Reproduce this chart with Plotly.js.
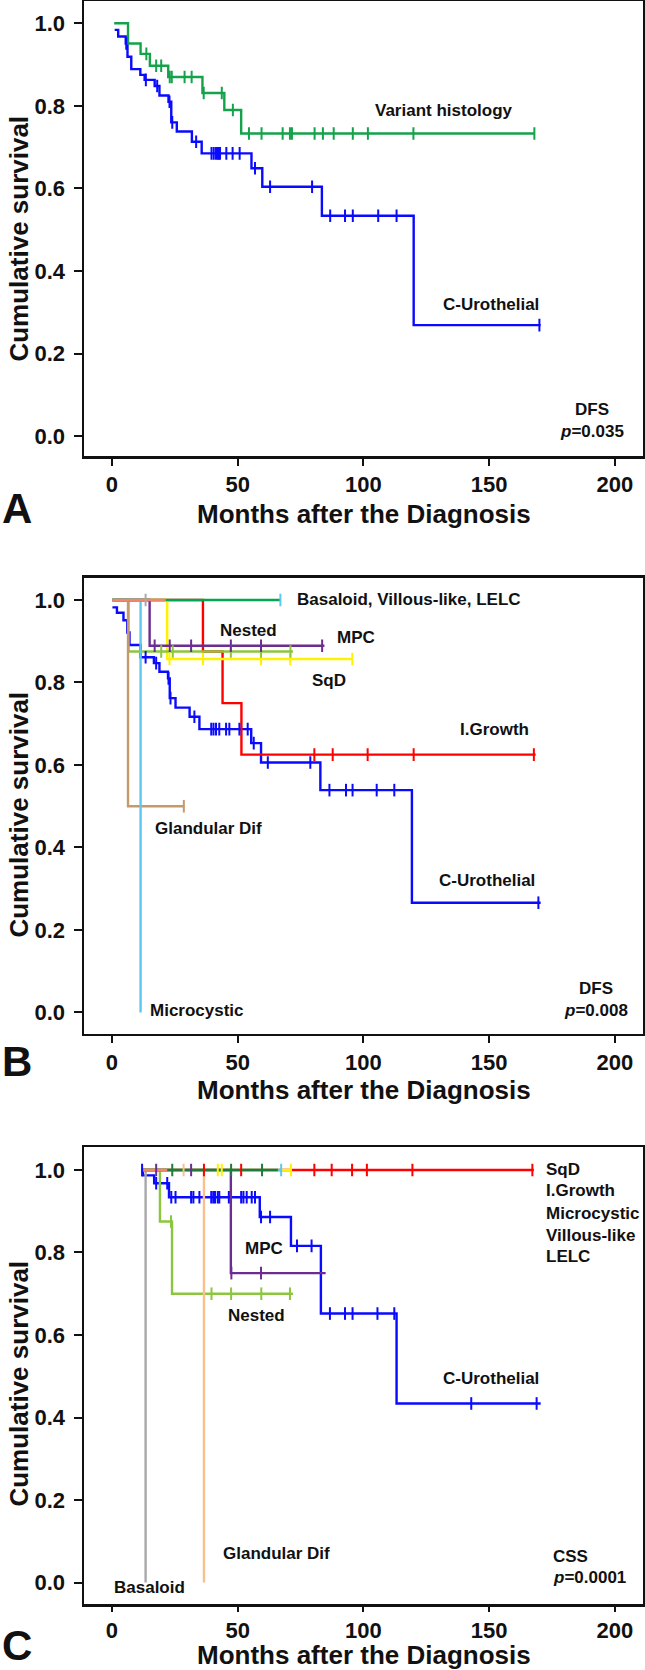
<!DOCTYPE html>
<html>
<head>
<meta charset="utf-8">
<script src="https://cdn.plot.ly/plotly-3.0.1.min.js"></script>
<style>
html,body{margin:0;padding:0;background:#ffffff;}
#chart{width:645px;height:1670px;}
</style>
</head>
<body>
<div id="chart"></div>
<script>
// ---------------- DATA ----------------
const xTicks = [0, 50, 100, 150, 200];
const yTicks = [0.0, 0.2, 0.4, 0.6, 0.8, 1.0];

// ===== Panel A : DFS, C-Urothelial vs Variant histology =====
const A_uro_t    = [1.1, 2.5, 5.5, 6.2, 7.7, 11.3, 13.0, 17.0, 18.9, 22.5, 23.6, 25.8, 31.8, 35.7, 55.5, 59.8, 83.5, 120.0];
const A_uro_s    = [0.984, 0.968, 0.951, 0.919, 0.889, 0.875, 0.863, 0.848, 0.825, 0.810, 0.760, 0.738, 0.713, 0.685, 0.649, 0.604, 0.534, 0.269];
const A_uro_end  = 170.5;
const A_uro_cens = [5.7, 13.5, 18.0, 22.9, 24.0, 33.5, 39.6, 40.5, 41.4, 42.1, 42.5, 43.0, 45.5, 48.0, 50.8, 56.9, 62.9, 79.6, 86.8, 92.7, 95.8, 105.9, 113.2, 170.0];

const A_var_t    = [0.9, 6.4, 11.4, 15.1, 22.4, 36.0, 44.7, 51.4];
const A_var_s    = [1.0, 0.951, 0.926, 0.897, 0.870, 0.831, 0.790, 0.733];
const A_var_end  = 168.2;
const A_var_cens = [13.7, 17.6, 19.6, 23.0, 23.8, 28.9, 31.7, 36.5, 43.7, 48.1, 54.5, 59.5, 67.9, 70.8, 71.6, 80.6, 83.9, 88.2, 95.8, 101.8, 119.9, 168.0];

// ===== Panel B : DFS by histologic subtype =====
const B_uro_t    = [0.2, 2.0, 4.6, 6.1, 7.0, 11.4, 16.7, 18.9, 22.3, 23.0, 25.3, 30.9, 34.8, 55.4, 59.3, 82.9, 119.3];
const B_uro_s    = [0.982, 0.969, 0.951, 0.921, 0.891, 0.861, 0.847, 0.826, 0.810, 0.762, 0.739, 0.717, 0.687, 0.653, 0.606, 0.539, 0.266];
const B_uro_end  = 170.5;
const B_uro_cens = [13.4, 17.6, 22.5, 23.3, 32.8, 39.5, 40.4, 41.4, 42.7, 45.4, 46.7, 50.7, 54.0, 56.4, 62.0, 78.9, 86.5, 93.1, 95.7, 105.3, 112.3, 169.6];

const B_igr_t = [0.2, 36.2, 44.0, 51.5];   const B_igr_s = [1.0, 0.875, 0.75, 0.625];
const B_igr_end = 168.5;                     const B_igr_cens = [80.5, 87.8, 101.7, 120.0, 167.8];

const B_sqd_t = [0.2, 22.0];                 const B_sqd_s = [1.0, 0.857];
const B_sqd_end = 95.8;                      const B_sqd_cens = [22.9, 36.2, 59.3, 70.9, 95.6];

const B_nes_t = [0.2, 6.6];                  const B_nes_s = [1.0, 0.875];
const B_nes_end = 72.0;                      const B_nes_cens = [19.6, 24.2, 47.3, 59.3, 71.0];

const B_mpc_t = [0.2, 15.0];                 const B_mpc_s = [1.0, 0.889];
const B_mpc_end = 84.5;                      const B_mpc_cens = [17.0, 23.0, 31.5, 47.3, 59.3, 83.6];

const B_gla_t = [0.2, 6.4];                  const B_gla_s = [1.0, 0.5];
const B_gla_end = 28.8;                      const B_gla_cens = [28.6];

const B_mic_t = [0.2, 11.4];                 const B_mic_s = [1.0, 0.0];
const B_mic_end = 11.4;                      const B_mic_cens = [];

const B_lel_t = [0.2];                       const B_lel_s = [1.0];
const B_lel_end = 67.0;                      const B_lel_cens = [67.0];

const B_vil_t = [0.2];                       const B_vil_s = [1.0];
const B_vil_end = 21.4;                      const B_vil_cens = [];

const B_bas_t = [0.2];                       const B_bas_s = [1.0];
const B_bas_end = 13.4;                      const B_bas_cens = [13.4];

// ===== Panel C : CSS by histologic subtype =====
const C_uro_t    = [11.8, 12.3, 16.8, 22.7, 58.8, 71.2, 83.1, 113.2];
const C_uro_s    = [1.0, 0.987, 0.968, 0.934, 0.886, 0.816, 0.652, 0.434];
const C_uro_end  = 170.5;
const C_uro_cens = [12.0, 17.6, 22.0, 23.6, 25.3, 31.5, 32.4, 34.8, 39.5, 40.3, 41.0, 42.1, 42.7, 46.5, 51.4, 52.3, 53.6, 55.6, 56.9, 59.3, 62.9, 73.6, 79.4, 86.7, 92.7, 95.7, 105.6, 112.3, 142.9, 168.9];

const C_nes_t = [11.8, 19.1, 23.9];          const C_nes_s = [1.0, 0.875, 0.70];
const C_nes_end = 72.0;                      const C_nes_cens = [23.5, 39.6, 47.4, 59.4, 70.8];

const C_mpc_t = [11.8, 47.3];                const C_mpc_s = [1.0, 0.75];
const C_mpc_end = 85.0;                      const C_mpc_cens = [17.6, 31.5, 47.5, 59.3];

const C_gla_t = [11.8, 36.6];                const C_gla_s = [1.0, 0.0];
const C_gla_end = 36.6;                      const C_gla_cens = [28.5];

const C_bas_t = [11.8, 13.4];                const C_bas_s = [1.0, 0.0];
const C_bas_end = 13.4;                      const C_bas_cens = [];

const C_igr_t = [11.8];                      const C_igr_s = [1.0];
const C_igr_end = 167.8;                     const C_igr_cens = [36.6, 51.4, 80.5, 87.4, 95.5, 101.4, 119.5, 167.2];

const C_sqd_t = [11.8];                      const C_sqd_s = [1.0];
const C_sqd_end = 71.2;                      const C_sqd_cens = [42.1, 43.7, 71.2];

const C_mic_t = [11.8];                      const C_mic_s = [1.0];
const C_mic_end = 67.3;                      const C_mic_cens = [67.3];

const C_lel_t = [11.8];                      const C_lel_s = [1.0];
const C_lel_end = 66.0;                      const C_lel_cens = [24.0, 47.4, 59.7];

const C_vil_t = [11.8];                      const C_vil_s = [1.0];
const C_vil_end = 22.0;                      const C_vil_cens = [];

// Texts
const xTitle = 'Months after the Diagnosis';
const yTitle = 'Cumulative survival';
const panelLetters = ['A', 'B', 'C'];
const C_topLabels = ['SqD', 'I.Growth', 'Microcystic', 'Villous-like', 'LELC'];

// ---------------- STYLE ----------------
const FONT = 'Liberation Sans, Arial, Helvetica, sans-serif';
const INK = '#111111';
const COL = {
  uro: '#0A0AFF', variant: '#14A24A', igr: '#FF0000', sqd: '#FFF200', nes: '#8CC63E',
  mpc: '#6B2D90', glaB: '#C4996C', mic: '#5CC8F2', lelB: '#00A651', vil: '#F4856C',
  bas: '#A9A9A9', glaC: '#F9BF8C', lelC: '#1E7B3C'
};

// ---------------- BUILD ----------------
function survAt(t, s, c) {
  let v = s[0];
  for (let i = 0; i < t.length; i++) if (t[i] <= c) v = s[i];
  return v;
}
const lineTraces = [], markTraces = [];
function addGroup(name, t, s, end, cens, color, ax, markerColor) {
  const xa = ax === 1 ? 'x' : 'x' + ax;
  const ya = ax === 1 ? 'y' : 'y' + ax;
  lineTraces.push({
    type: 'scatter', mode: 'lines', name: name, xaxis: xa, yaxis: ya,
    x: t.concat([end]), y: s.concat([s[s.length - 1]]),
    line: {shape: 'hv', color: color, width: 2.4}, hoverinfo: 'skip'
  });
  if (cens.length) {
    markTraces.push({
      type: 'scatter', mode: 'markers', name: name + ' censored', xaxis: xa, yaxis: ya,
      x: cens, y: cens.map(c => survAt(t, s, c)),
      marker: {symbol: 'line-ns', size: 9, line: {color: markerColor || color, width: 2}},
      hoverinfo: 'skip'
    });
  }
}

// Panel A
addGroup('C-Urothelial', A_uro_t, A_uro_s, A_uro_end, A_uro_cens, COL.uro, 1);
addGroup('Variant histology', A_var_t, A_var_s, A_var_end, A_var_cens, COL.variant, 1);
// Panel B
addGroup('C-Urothelial', B_uro_t, B_uro_s, B_uro_end, B_uro_cens, COL.uro, 2);
addGroup('I.Growth', B_igr_t, B_igr_s, B_igr_end, B_igr_cens, COL.igr, 2);
addGroup('SqD', B_sqd_t, B_sqd_s, B_sqd_end, B_sqd_cens, COL.sqd, 2);
addGroup('Nested', B_nes_t, B_nes_s, B_nes_end, B_nes_cens, COL.nes, 2);
addGroup('MPC', B_mpc_t, B_mpc_s, B_mpc_end, B_mpc_cens, COL.mpc, 2);
addGroup('Glandular Dif', B_gla_t, B_gla_s, B_gla_end, B_gla_cens, COL.glaB, 2);
addGroup('Microcystic', B_mic_t, B_mic_s, B_mic_end, B_mic_cens, COL.mic, 2);
addGroup('Basaloid', B_bas_t, B_bas_s, B_bas_end, B_bas_cens, COL.bas, 2);
addGroup('LELC', B_lel_t, B_lel_s, B_lel_end, B_lel_cens, COL.lelB, 2, COL.mic);
addGroup('Villous-like', B_vil_t, B_vil_s, B_vil_end, B_vil_cens, COL.vil, 2);
// Panel C
addGroup('C-Urothelial', C_uro_t, C_uro_s, C_uro_end, C_uro_cens, COL.uro, 3);
addGroup('Nested', C_nes_t, C_nes_s, C_nes_end, C_nes_cens, COL.nes, 3);
addGroup('MPC', C_mpc_t, C_mpc_s, C_mpc_end, C_mpc_cens, COL.mpc, 3);
addGroup('Glandular Dif', C_gla_t, C_gla_s, C_gla_end, C_gla_cens, COL.glaC, 3);
addGroup('Basaloid', C_bas_t, C_bas_s, C_bas_end, C_bas_cens, COL.bas, 3);
addGroup('I.Growth', C_igr_t, C_igr_s, C_igr_end, C_igr_cens, COL.igr, 3);
addGroup('SqD', C_sqd_t, C_sqd_s, C_sqd_end, C_sqd_cens, COL.sqd, 3);
addGroup('Microcystic', C_mic_t, C_mic_s, C_mic_end, C_mic_cens, COL.mic, 3);
addGroup('LELC', C_lel_t, C_lel_s, C_lel_end, C_lel_cens, COL.lelC, 3);
addGroup('Villous-like', C_vil_t, C_vil_s, C_vil_end, C_vil_cens, COL.vil, 3);

const traces = lineTraces.concat(markTraces);

// ---------------- LAYOUT ----------------
const W = 645, H = 1670, ML = 84, MR = 1.5;
const tickFont = {family: FONT, size: 22, color: INK, weight: 'bold'};
function xAxis(anchor, ticklen) {
  return {
    anchor: anchor, domain: [0, 1], range: [-11.1, 211.2],
    tickmode: 'array', tickvals: xTicks, ticktext: xTicks.map(String),
    ticks: 'outside', ticklen: ticklen, tickwidth: 2, tickcolor: INK,
    showline: true, linewidth: 2.5, linecolor: INK, mirror: true,
    showgrid: false, zeroline: false, tickfont: tickFont
  };
}
function yAxis(anchor, domain, range) {
  return {
    anchor: anchor, domain: domain, range: range,
    tickmode: 'array', tickvals: yTicks, ticktext: yTicks.map(v => v.toFixed(1)),
    ticks: 'outside', ticklen: 8, tickwidth: 2, tickcolor: INK,
    showline: true, linewidth: 2.5, linecolor: INK, mirror: true,
    showgrid: false, zeroline: false, tickfont: tickFont, ticklabelstandoff: 4
  };
}
const dom = (top, bottom) => [1 - bottom / H, 1 - top / H];

const annFont = {family: FONT, size: 17, color: INK, weight: 'bold'};
const anns = [];
function lab(text, x, y, ax, xanchor) {
  anns.push({text: text, x: x, y: y, xref: ax === 1 ? 'x' : 'x' + ax, yref: ax === 1 ? 'y' : 'y' + ax,
    showarrow: false, xanchor: xanchor || 'center', yanchor: 'middle', font: annFont});
}
// Panel A labels
lab('Variant histology', 132.0, 0.788, 1);
lab('C-Urothelial', 150.7, 0.319, 1);
lab('DFS', 191.1, 0.064, 1);
lab('<i>p</i>=0.035', 190.8, 0.011, 1);
// Panel B labels
lab('Basaloid, Villous-like, LELC', 72.7, 1.0, 2, 'left');
lab('Nested', 54.4, 0.925, 2);
lab('MPC', 97.1, 0.909, 2);
lab('SqD', 86.5, 0.806, 2);
lab('I.Growth', 152.0, 0.687, 2);
lab('C-Urothelial', 149.1, 0.321, 2);
lab('Glandular Dif', 38.5, 0.446, 2);
lab('Microcystic', 33.8, 0.004, 2);
lab('DFS', 192.7, 0.059, 2);
lab('<i>p</i>=0.008', 192.5, 0.004, 2);
// Panel C labels
const cTopY = [1.002, 0.950, 0.895, 0.841, 0.790];
C_topLabels.forEach((t, i) => lab(t, 171.8, cTopY[i], 3, 'left'));
lab('MPC', 60.3, 0.810, 3);
lab('Nested', 57.5, 0.648, 3);
lab('C-Urothelial', 150.9, 0.495, 3);
lab('Glandular Dif', 65.3, 0.070, 3);
lab('Basaloid', 15.1, -0.013, 3);
lab('CSS', 174.6, 0.064, 3, 'left');
lab('<i>p</i>=0.0001', 174.6, 0.011, 3, 'left');

// titles and panel letters placed in paper coords from pixel positions
const px2x = px => (px - ML) / (W - ML - MR);
const px2y = py => 1 - py / H;
const titleFont = {family: FONT, size: 26, color: INK, weight: 'bold'};
[239, 815, 1384].forEach(py => anns.push({
  text: yTitle, xref: 'paper', yref: 'paper', x: px2x(18.5), y: px2y(py), textangle: -90,
  showarrow: false, xanchor: 'center', yanchor: 'middle', font: titleFont
}));
[514, 1090, 1655].forEach(py => anns.push({
  text: xTitle, xref: 'paper', yref: 'paper', x: 0.5, y: px2y(py),
  showarrow: false, xanchor: 'center', yanchor: 'middle', font: titleFont
}));
[508, 1061, 1645].forEach((py, i) => anns.push({
  text: panelLetters[i], xref: 'paper', yref: 'paper', x: px2x(17), y: px2y(py),
  showarrow: false, xanchor: 'center', yanchor: 'middle',
  font: {family: FONT, size: 42, color: INK, weight: 'bold'}
}));

const layout = {
  width: W, height: H,
  margin: {l: ML, r: MR, t: 0, b: 0, pad: 0},
  paper_bgcolor: '#ffffff', plot_bgcolor: '#ffffff',
  showlegend: false,
  font: {family: FONT, color: INK},
  xaxis: xAxis('y', 7),
  yaxis: yAxis('x', dom(1, 456.4), [-0.049, 1.054]),
  xaxis2: xAxis('y2', 7),
  yaxis2: yAxis('x2', dom(577.5, 1033.9), [-0.052, 1.0545]),
  xaxis3: xAxis('y3', 5),
  yaxis3: yAxis('x3', dom(1147.3, 1604.2), [-0.0526, 1.055]),
  annotations: anns
};

Plotly.newPlot('chart', traces, layout, {staticPlot: true, displayModeBar: false});
</script>
</body>
</html>
